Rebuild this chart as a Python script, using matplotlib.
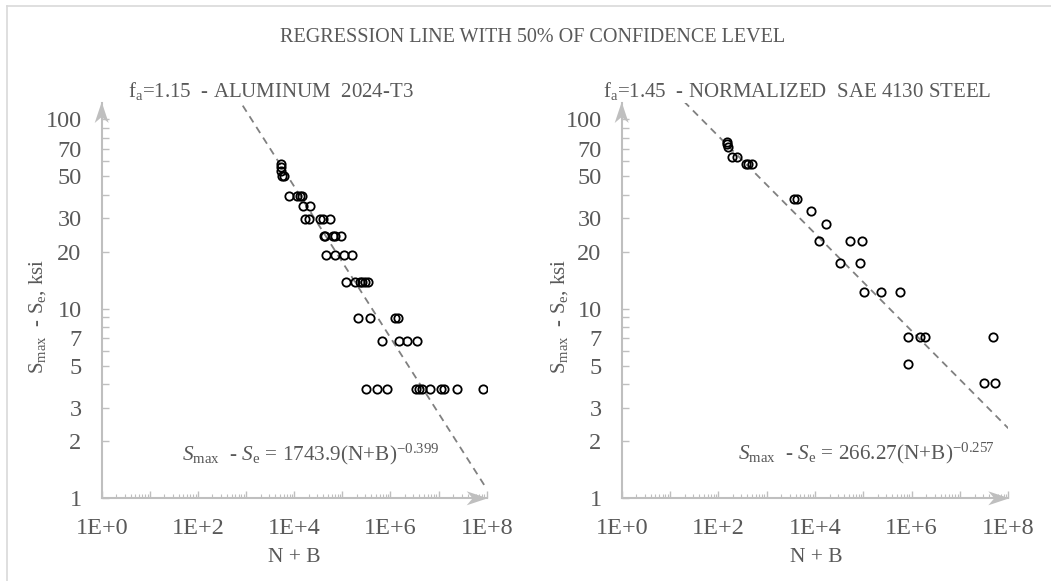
import numpy as np
import matplotlib
matplotlib.use('Agg')
import matplotlib.pyplot as plt
from matplotlib.transforms import ScaledTranslation
from matplotlib.patches import Polygon
from matplotlib.lines import Line2D
from matplotlib.ticker import FixedLocator, FixedFormatter, NullFormatter

plt.rcParams['font.family'] = ['Liberation Serif', 'DejaVu Serif']
plt.rcParams['mathtext.fontset'] = 'custom'
plt.rcParams['mathtext.rm'] = 'Liberation Serif'
plt.rcParams['mathtext.it'] = 'Liberation Serif:italic'

# ---------------- data ----------------
al_nb = [5420, 5420, 5420, 5560, 6110,
         7980, 11480, 13010, 14450,
         15170, 21190,
         16680, 20400, 35000, 40400, 56500,
         40800, 44500, 63700, 72100, 93300,
         44900, 70400, 107200, 161000,
         118600, 184900, 228000, 260800, 298400, 339500,
         213300, 373300, 1264000, 1459000,
         653000, 1494000, 2223000, 3484000,
         308300, 534500, 862600, 3373000, 3981000, 4599000, 6577000,
         11400000, 13180000, 23600000, 84140000]
al_s = [58.1, 55.7, 53.4, 50.5, 50.5,
        39.6, 39.6, 39.6, 39.6,
        34.9, 34.9,
        29.8, 29.8, 29.8, 29.8, 29.8,
        24.3, 24.3, 24.3, 24.3, 24.3,
        19.2, 19.2, 19.2, 19.2,
        13.9, 13.9, 13.9, 13.9, 13.9, 13.9,
        8.9, 8.9, 8.9, 8.9,
        6.79, 6.79, 6.79, 6.79,
        3.77, 3.77, 3.77, 3.77, 3.77, 3.77, 3.77,
        3.77, 3.77, 3.77, 3.77]

st_nb = [148, 151, 159, 190, 244, 366, 402, 504,
         3656, 4303, 8110, 16820, 12160, 53300, 93100,
         33100, 85900, 105000, 236000, 565000,
         838000, 1479000, 1876000, 49400000,
         838000, 30690000, 53560000]
st_s = [76.2, 74.1, 71.6, 63.2, 63.2, 58.1, 58.1, 58.1,
        38.0, 38.0, 32.9, 27.9, 22.9, 22.9, 22.9,
        17.4, 17.4, 12.3, 12.3, 12.3,
        7.07, 7.07, 7.07, 7.07,
        5.11, 4.07, 4.07]

al_coef, al_exp = 1743.9, -0.399
st_coef, st_exp = 266.27, -0.257

main_title = "REGRESSION LINE WITH 50% OF CONFIDENCE LEVEL"
al_title = r"f$_{\mathrm{a}}$=1.15  - ALUMINUM  2024-T3"
st_title = r"f$_{\mathrm{a}}$=1.45  - NORMALIZED  SAE 4130 STEEL"
al_eq = r"$\mathit{S}_{\mathrm{max}}$  - $\mathit{S}_{\mathrm{e}}$ = 1743.9(N+B)$^{\mathrm{-0.399}}$"
st_eq = r"$\mathit{S}_{\mathrm{max}}$  - $\mathit{S}_{\mathrm{e}}$ = 266.27(N+B)$^{\mathrm{-0.257}}$"
ylabel = r"S$_{\mathrm{max}}$  - S$_{\mathrm{e}}$, ksi"
xlabel = "N + B"

y_ticks = [1, 2, 3, 4, 5, 6, 7, 8, 9, 10, 20, 30, 40, 50, 60, 70, 80, 90, 100]
y_labeled = [1, 2, 3, 5, 7, 10, 20, 30, 50, 70, 100]
x_exps = [0, 1, 2, 3, 4, 5, 6, 7, 8]
x_labeled = {0: "1E+0", 2: "1E+2", 4: "1E+4", 6: "1E+6", 8: "1E+8"}

# ---------------- layout ----------------
W, H = 1051, 581
fig = plt.figure(figsize=(W / 100, H / 100), dpi=100)
fig.patch.set_facecolor('white')

TXT = '#595959'
AXC = '#BFBFBF'
FS = 15
FS_TICK = 17.5

def px(x, y):
    return x / W, 1 - y / H

y_bot, y_top = 498.3, 103.0
ymax = 10 ** ((y_bot - y_top) / 189.5)

def make_ax(x0, x1, nb, s, coef, expo):
    ax = fig.add_axes([x0 / W, 1 - y_bot / H, (x1 - x0) / W, (y_bot - y_top) / H])
    ax.set_xscale('log')
    ax.set_yscale('log')
    ax.set_xlim(1, 1e8)
    ax.set_ylim(1, ymax)
    for sp in ['top', 'right']:
        ax.spines[sp].set_visible(False)
    for sp in ['left', 'bottom']:
        ax.spines[sp].set_color(AXC)
        ax.spines[sp].set_linewidth(1.5)
    ax.yaxis.set_major_locator(FixedLocator(y_ticks))
    ax.yaxis.set_major_formatter(FixedFormatter([str(v) if v in y_labeled else '' for v in y_ticks]))
    ax.yaxis.set_minor_locator(FixedLocator([]))
    ax.xaxis.set_major_locator(FixedLocator([10.0 ** e for e in x_exps]))
    ax.xaxis.set_major_formatter(FixedFormatter([x_labeled.get(e, '') for e in x_exps]))
    ax.xaxis.set_minor_locator(FixedLocator([m * 10.0 ** e for e in range(0, 8) for m in range(2, 10)]))
    ax.xaxis.set_minor_formatter(NullFormatter())
    ax.tick_params(axis='y', which='major', direction='in', length=5, width=1, color=AXC,
                   labelcolor=TXT, labelsize=FS_TICK, pad=14.5)
    ax.tick_params(axis='x', which='major', direction='in', length=5, width=1, color=AXC,
                   labelcolor=TXT, labelsize=FS_TICK, pad=14)
    ax.tick_params(axis='x', which='minor', direction='in', length=3, width=0.8, color=AXC)
    # trendline
    xt = np.logspace(0, 8, 400)
    ax.plot(xt, coef * xt ** expo, color='#808080', lw=1.3, ls=(0, (4, 3)), zorder=2)
    ax.plot(nb, s, ls='none', marker='o', ms=6, mfc='none', mec='black', mew=1.3, zorder=3)
    # arrows
    tr_up = fig.dpi_scale_trans + ScaledTranslation(0, 1, ax.transAxes)
    ax.add_patch(Polygon([(0, 0.01), (-0.07, -0.2), (0, -0.14), (0.07, -0.2)], closed=True,
                         transform=tr_up, fc=AXC, ec='none', clip_on=False))
    tr_rt = fig.dpi_scale_trans + ScaledTranslation(1, 0, ax.transAxes)
    ax.add_patch(Polygon([(0.01, 0), (-0.2, 0.07), (-0.14, 0), (-0.2, -0.07)], closed=True,
                         transform=tr_rt, fc=AXC, ec='none', clip_on=False))
    return ax

ax1 = make_ax(101.7, 486.7, al_nb, al_s, al_coef, al_exp)
ax2 = make_ax(621.7, 1008.3, st_nb, st_s, st_coef, st_exp)

# texts
fig.text(*px(532.7, 42.3), main_title, ha='center', va='baseline', color=TXT, fontsize=14.5)
fig.text(*px(128, 97), al_title, ha='left', va='baseline', color=TXT, fontsize=FS)
fig.text(*px(602.7, 97), st_title, ha='left', va='baseline', color=TXT, fontsize=FS)
fig.text(*px(182, 460.5), al_eq, ha='left', va='baseline', color=TXT, fontsize=15.3)
fig.text(*px(738.3, 459), st_eq, ha='left', va='baseline', color=TXT, fontsize=15.3)
fig.text(*px(294.5, 561.7), xlabel, ha='center', va='baseline', color=TXT, fontsize=15.5)
fig.text(*px(815.8, 561.7), xlabel, ha='center', va='baseline', color=TXT, fontsize=15.5)
fig.text(*px(38, 316), ylabel, ha='center', va='center', rotation=90, color=TXT, fontsize=FS)
fig.text(*px(560, 316), ylabel, ha='center', va='center', rotation=90, color=TXT, fontsize=FS)

# chart-area border (left and top edges visible)
fig.add_artist(Line2D([7 / W, 7 / W], [0, 1 - 6 / H], color='#D9D9D9', lw=1.2))
fig.add_artist(Line2D([7 / W, 1], [1 - 6 / H, 1 - 6 / H], color='#D9D9D9', lw=1.2))

fig.savefig('out.png', dpi=100, facecolor='white')
